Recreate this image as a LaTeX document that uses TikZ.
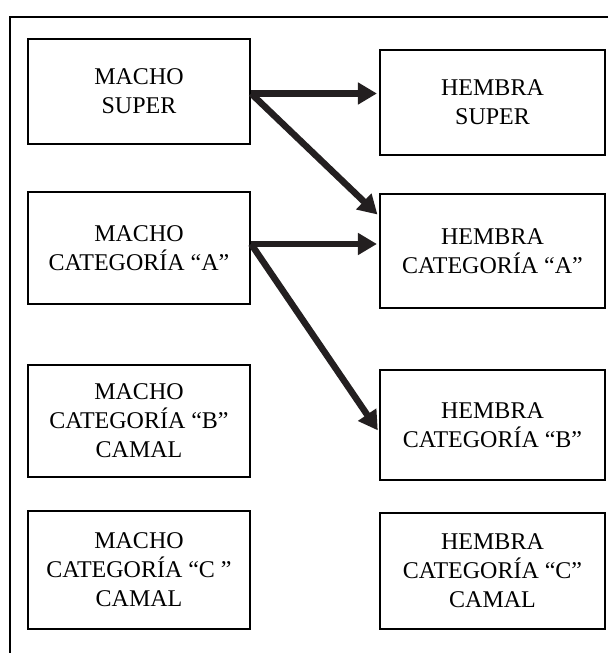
\documentclass[tikz,border=0pt]{standalone}
\usepackage{fontspec}
\setmainfont{Liberation Serif}
\usetikzlibrary{arrows.meta}
\definecolor{tinta}{HTML}{231F20}
\tikzset{
    caja/.style={draw, line width=2.2pt, align=center, inner sep=0pt,
        font=\fontsize{24}{29}\selectfont},
    flecha/.style={->, line width=6.5pt, color=tinta, shorten >=2pt}
}
\begin{document}
\begin{tikzpicture}[x=1pt, y=-1pt, >={Triangle[length=19pt, width=21pt]}]
    \useasboundingbox (0,0) rectangle (608,653);
    \draw[line width=1.2pt](608,17)--(10,17)--(10,653);
    % machos
    \node[caja, minimum width=222pt, minimum height=105pt] (m1) at (139,91.5) {MACHO\\SUPER};
    \node[caja, minimum width=222pt, minimum height=112pt] (m2) at (139,248) {MACHO\\CATEGORÍA “A”};
    \node[caja, minimum width=222pt, minimum height=112pt] (m3) at (139,421) {MACHO\\CATEGORÍA “B”\\CAMAL};
    \node[caja, minimum width=222pt, minimum height=118pt] (m4) at (139,570) {MACHO\\CATEGORÍA “C ”\\CAMAL};
    % hembras
    \node[caja, minimum width=225pt, minimum height=105pt] (h1) at (492.5,102.5) {HEMBRA\\SUPER};
    \node[caja, minimum width=225pt, minimum height=114pt] (h2) at (492.5,251) {HEMBRA\\CATEGORÍA “A”};
    \node[caja, minimum width=225pt, minimum height=110pt] (h3) at (492.5,425) {HEMBRA\\CATEGORÍA “B”};
    \node[caja, minimum width=225pt, minimum height=116pt] (h4) at (492.5,571) {HEMBRA\\CATEGORÍA “C”\\CAMAL};
    % cruces
    \draw[flecha]([yshift=-2pt]m1.east)--([yshift=-2pt]m1.east -| h1.west);
    \draw[flecha]([yshift=-2pt]m1.east)--([yshift=-23pt]h2.north west);
    \draw[flecha]([yshift=4pt]m2.east)--([yshift=4pt]m2.east -| h2.west);
    \draw[flecha]([yshift=4pt]m2.east)--([yshift=-7pt]h3.west);
\end{tikzpicture}
\end{document}
